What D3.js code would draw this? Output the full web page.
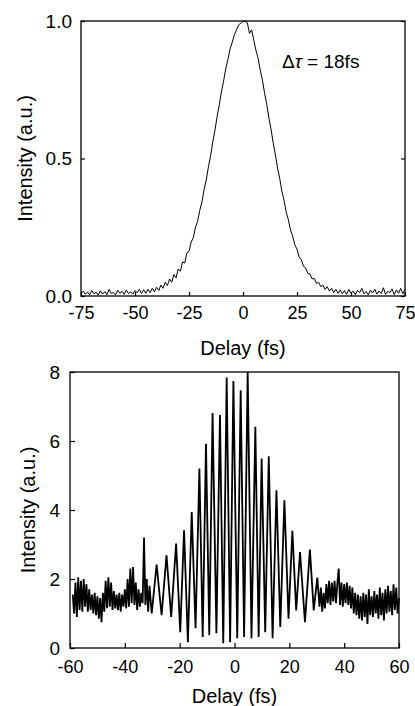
<!DOCTYPE html>
<html>
<head>
<meta charset="utf-8">
<script src="https://cdn.jsdelivr.net/npm/d3@7"></script>
<style>
  body { margin: 0; background: #fff; }
  svg { display: block; font-family: "Liberation Sans", Arial, sans-serif; }
</style>
</head>
<body>
<svg width="415" height="706"></svg>
<script>
// top panel: intensity autocorrelation, one sample per fs from -75 to 75
const acStart = -75, acStep = 1;
const acValues = [
  0.010, 0.018, 0.006, 0.015, 0.004, 0.020, 0.008, 0.014, 0.003, 0.019,
  0.007, 0.016, 0.005, 0.024, 0.009, 0.013, 0.004, 0.021, 0.010, 0.017,
  0.006, 0.022, 0.009, 0.015, 0.007, 0.020, 0.012, 0.024, 0.009, 0.023,
  0.010, 0.024, 0.012, 0.028, 0.015, 0.032, 0.020, 0.040, 0.028, 0.050,
  0.038, 0.062, 0.050, 0.078, 0.066, 0.098, 0.090, 0.124, 0.120, 0.156,
  0.162, 0.196, 0.212, 0.250, 0.272, 0.312, 0.342, 0.388, 0.422, 0.470,
  0.510, 0.560, 0.602, 0.652, 0.694, 0.742, 0.781, 0.826, 0.860, 0.898,
  0.922, 0.950, 0.968, 0.986, 0.992, 0.998, 1.000, 0.994, 0.955, 0.968,
  0.930, 0.893, 0.864, 0.821, 0.785, 0.737, 0.697, 0.647, 0.606, 0.555,
  0.514, 0.465, 0.427, 0.381, 0.347, 0.305, 0.277, 0.240, 0.218, 0.186,
  0.170, 0.142, 0.132, 0.108, 0.102, 0.082, 0.080, 0.062, 0.064, 0.046,
  0.050, 0.034, 0.040, 0.024, 0.034, 0.018, 0.028, 0.012, 0.024, 0.010,
  0.022, 0.008, 0.020, 0.006, 0.024, 0.010, 0.018, 0.005, 0.020, 0.012,
  0.028, 0.008, 0.016, 0.004, 0.021, 0.011, 0.025, 0.007, 0.018, 0.009,
  0.030, 0.006, 0.017, 0.012, 0.026, 0.005, 0.022, 0.010, 0.028, 0.008,
  0.024
];
const acXTicks = [-75, -50, -25, 0, 25, 50, 75];
const acYTicks = [0, 0.5, 1];

// bottom panel: interferometric autocorrelation
// noisy wings sampled every 0.5 fs, fringe extrema in between
const wingStep = 0.5;
const leftWingStart = -59;
const leftWing = [
  1.55, 1.0, 1.9, 0.9, 2.05, 1.1, 1.95, 1.05, 2.0, 1.2,
  1.85, 1.05, 1.7, 1.1, 1.55, 1.0, 1.6, 0.95, 1.5, 0.85,
  1.45, 0.75, 1.6, 1.05, 1.95, 1.15, 2.05, 1.2, 1.9, 1.1,
  1.65, 1.15, 1.55, 1.1, 1.6, 1.05, 1.55, 1.2, 1.7, 1.15,
  2.0, 1.2, 2.3, 1.3, 2.35, 1.25, 1.9, 1.1, 1.7, 1.2,
  1.6, 1.3, 3.2, 1.25, 2.0, 1.05, 1.8
];
const fringeDelays = [
  -30.2, -28.4, -26.6, -24.8, -23.1, -21.3, -19.8, -18.4, -17.0, -15.6,
  -14.2, -12.8, -11.6, -10.4, -9.2, -8.0, -6.6, -5.3, -4.1, -2.85,
  -1.6, -0.4, 1.0, 2.25, 3.5, 4.8, 6.2, 7.6, 8.8, 9.9,
  11.2, 12.5, 13.9, 15.3, 16.7, 18.2, 19.7, 21.1, 22.5, 23.9,
  25.7, 27.5, 28.9, 30.2
];
const fringeValues = [
  1.0, 2.42, 0.95, 2.69, 0.9, 3.03, 0.46, 3.41, 0.17, 3.94,
  0.57, 5.2, 0.32, 5.92, 0.37, 6.81, 0.43, 6.75, 0.14, 7.84,
  0.17, 7.74, 0.28, 7.47, 0.32, 8.0, 0.28, 6.41, 0.32, 5.49,
  0.46, 5.56, 0.28, 4.57, 0.61, 4.28, 0.85, 3.4, 1.09, 2.78,
  0.75, 2.85, 1.09, 2.04
];
const rightWingStart = 31;
const rightWing = [
  1.2, 1.75, 1.05, 1.6, 1.15, 1.85, 1.3, 1.95, 1.25, 1.9,
  1.35, 1.95, 1.3, 1.85, 2.3, 1.25, 1.9, 1.2, 1.85, 1.3,
  1.9, 1.25, 1.8, 1.15, 1.75, 1.0, 1.6, 0.95, 1.55, 0.85,
  1.5, 0.8, 1.6, 0.9, 1.55, 0.7, 1.7, 0.95, 1.5, 0.9,
  1.65, 1.0, 1.55, 0.85, 1.75, 0.95, 1.6, 0.8, 1.7, 1.0,
  1.8, 1.05, 1.65, 0.95, 1.85, 1.1, 1.75, 1.0, 1.45
];
const ifXTicks = [-60, -40, -20, 0, 20, 40, 60];
const ifYTicks = [0, 2, 4, 6, 8];

const svg = d3.select('svg');

function drawFrame(x, y, xTicks, yTicks, opts) {
  const [x0, x1] = x.range();
  const [y0, y1] = y.range();

  const gx = svg.append('g')
    .attr('transform', `translate(0,${y0})`)
    .call(d3.axisBottom(x).tickValues(xTicks).tickSize(-opts.tick)
      .tickPadding(opts.xPad).tickFormat(d => String(d)));
  const gy = svg.append('g')
    .attr('transform', `translate(${x0},0)`)
    .call(d3.axisLeft(y).tickValues(yTicks).tickSize(-opts.tick)
      .tickPadding(opts.yPad).tickFormat(opts.yFormat));
  [gx, gy].forEach(g => {
    g.attr('font-size', 18).attr('font-family', null);
    g.select('.domain').remove();
    g.selectAll('text').attr('fill', '#000');
    g.selectAll('line').attr('stroke', '#000').attr('stroke-width', 1.2);
  });
  gy.attr('font-size', 19);

  if (opts.rightTicks) {
    svg.append('g')
      .attr('transform', `translate(${x1},0)`)
      .call(d3.axisRight(y).tickValues(yTicks).tickSize(-opts.tick).tickFormat(''))
      .call(g => g.select('.domain').remove())
      .selectAll('line').attr('stroke', '#000').attr('stroke-width', 1.2);
  }

  svg.append('rect')
    .attr('x', x0).attr('y', y1)
    .attr('width', x1 - x0).attr('height', y0 - y1)
    .attr('fill', 'none').attr('stroke', '#000').attr('stroke-width', 1.3);

  svg.append('text')
    .attr('x', (x0 + x1) / 2).attr('y', opts.xLabelY)
    .attr('text-anchor', 'middle').attr('font-size', 20)
    .text('Delay (fs)');
  svg.append('text')
    .attr('transform', `translate(${opts.yLabelX},${(y0 + y1) / 2}) rotate(-90)`)
    .attr('text-anchor', 'middle').attr('font-size', 20)
    .text('Intensity (a.u.)');
}

// ---- top panel
const xTop = d3.scaleLinear().domain([-75, 75]).range([81, 405]);
const yTop = d3.scaleLinear().domain([0, 1]).range([296, 21]);

drawFrame(xTop, yTop, acXTicks, acYTicks, {
  tick: 4, xPad: 10, yPad: 9, yFormat: d3.format('.1f'),
  xLabelY: 355, yLabelX: 32, rightTicks: true
});

const acData = acValues.map((v, i) => [acStart + i * acStep, v]);
svg.append('path')
  .datum(acData)
  .attr('fill', 'none')
  .attr('stroke', '#000')
  .attr('stroke-width', 1)
  .attr('d', d3.line().x(d => xTop(d[0])).y(d => yTop(d[1])));

const dt = svg.append('text')
  .attr('x', 282).attr('y', 68)
  .attr('font-size', 19);
dt.append('tspan').text('Δ');
dt.append('tspan').attr('font-style', 'italic').text('τ');
dt.append('tspan').text(' = 18fs');

// ---- bottom panel
const xBot = d3.scaleLinear().domain([-60, 60]).range([70, 399]);
const yBot = d3.scaleLinear().domain([0, 8]).range([648, 372]);

drawFrame(xBot, yBot, ifXTicks, ifYTicks, {
  tick: 5, xPad: 12, yPad: 10, yFormat: d => String(d),
  xLabelY: 703, yLabelX: 35, rightTicks: false
});

const ifData = [
  ...leftWing.map((v, i) => [leftWingStart + i * wingStep, v]),
  ...fringeDelays.map((d, i) => [d, fringeValues[i]]),
  ...rightWing.map((v, i) => [rightWingStart + i * wingStep, v])
];
svg.append('path')
  .datum(ifData)
  .attr('fill', 'none')
  .attr('stroke', '#000')
  .attr('stroke-width', 1.8)
  .attr('stroke-linejoin', 'miter')
  .attr('d', d3.line().x(d => xBot(d[0])).y(d => yBot(d[1])));
</script>
</body>
</html>
